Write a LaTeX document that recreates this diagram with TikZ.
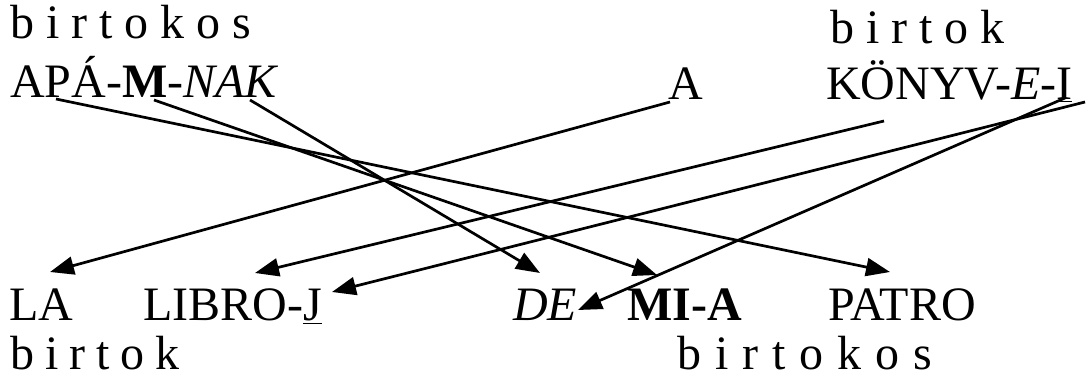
\documentclass[tikz,border=0pt]{standalone}
\usepackage{fontspec}
\setmainfont{Liberation Serif}
\usetikzlibrary{arrows.meta}
\newcommand\gp[1]{\hspace{#1}}
\begin{document}
\begin{tikzpicture}[x=1pt,y=-1pt,
  word/.style={anchor=base west,inner sep=0pt,font=\fontsize{48}{56}\selectfont},
  link/.style={line width=2.7pt,-{Triangle[length=24pt,width=18pt]}}]
\useasboundingbox (0,0) rectangle (1090,387);
% top
\node[word] (posT) at (10,39) {b\gp{12pt}i\gp{12pt}r\gp{12pt}t\gp{12pt}o\gp{12pt}k\gp{12pt}o\gp{12pt}s};
\node[word] (apa) at (10,98) {APÁ-\textbf{M}-\textit{NAK}};
\node[word] (art) at (668,100) {A};
\node[word] (possT) at (830,44) {b\gp{12pt}i\gp{12pt}r\gp{12pt}t\gp{12pt}o\gp{12pt}k};
\node[word] (konyv) at (826,100) {KÖNYV-\textit{E}-\underline{I}};
% bottom
\node[word] (la) at (9,321) {LA};
\node[word] (libro) at (143,321) {LIBRO-\underline{J}};
\node[word] (de) at (513,321) {\textit{DE}};
\node[word] (mia) at (627,321) {\textbf{MI-A}};
\node[word] (patro) at (828,321) {PATRO};
\node[word] (possB) at (10,370) {b\gp{11pt}i\gp{11pt}r\gp{11pt}t\gp{11pt}o\gp{11pt}k};
\node[word] (posB) at (677,370) {b\gp{14pt}i\gp{14pt}r\gp{14pt}t\gp{14pt}o\gp{14pt}k\gp{14pt}o\gp{14pt}s};
% start points
\coordinate (sApa) at (56,99);
\coordinate (sM) at (154,100);
\coordinate (sNak) at (250,100);
\coordinate (sA) at (670,102);
\coordinate (sKonyv) at (884,121);
\coordinate (sI) at (1085,102);
\coordinate (sE) at (1065,98);
% end points
\coordinate (eLa) at (50,272);
\coordinate (eLibro) at (255,273);
\coordinate (eJ) at (332,292);
\coordinate (eDe) at (540,273);
\coordinate (eMia) at (657,275);
\coordinate (ePatro) at (890,272);
\coordinate (eDe2) at (578,310);
\draw[link] (sApa) -- (ePatro);
\draw[link] (sM) -- (eMia);
\draw[link] (sNak) -- (eDe);
\draw[link] (sA) -- (eLa);
\draw[link] (sKonyv) -- (eLibro);
\draw[link] (sI) -- (eJ);
\draw[link] (sE) -- (eDe2);
\end{tikzpicture}
\end{document}
